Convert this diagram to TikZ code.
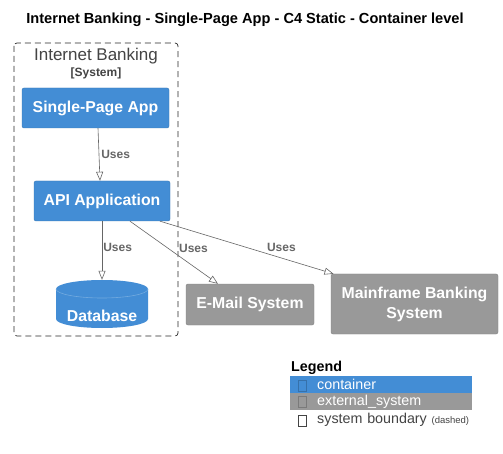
\documentclass[tikz,border=0pt]{standalone}
\usepackage{fontspec}
\setmainfont{Liberation Sans}
\usetikzlibrary{arrows.meta,positioning}
\definecolor{cblue}{HTML}{438DD5}
\definecolor{cgray}{HTML}{999999}
\definecolor{cline}{HTML}{666666}
\definecolor{ctext}{HTML}{444444}
\tikzset{
  container/.style={draw=cblue!85!black, line width=0.4pt, fill=cblue, rounded corners=2pt,
    text=white, font=\fontsize{15.8}{20}\selectfont\bfseries, align=center},
  extsys/.style={container, draw=cgray!85!black, fill=cgray},
  uses/.style={draw=cline, line width=0.6pt, -{Triangle[open,length=9pt,width=7pt]}},
  useslbl/.style={text=cline, font=\fontsize{12}{13}\selectfont\bfseries, inner sep=1pt},
  legrow/.style={anchor=west, minimum width=182pt, minimum height=17pt, inner sep=0pt,
    text width=182pt, align=left, font=\fontsize{14.3}{15}\selectfont},
  glyph/.style={draw, line width=0.5pt, minimum width=8pt, minimum height=11pt, inner sep=0pt}
}
\begin{document}
\begin{tikzpicture}[x=1pt, y=-1pt]
  \useasboundingbox[fill=white] (0,0) rectangle (503,454);
  % title
  \node[font=\fontsize{14.6}{16}\selectfont\bfseries] (title) at (245,20)
    {Internet Banking - Single-Page App - C4 Static - Container level};
  % system boundary
  \draw[dash pattern=on 6pt off 4pt, draw=ctext!60!black, line width=0.7pt, rounded corners=3pt]
    (14,43) rectangle (178,336);
  \node[text=ctext, font=\fontsize{17}{18}\selectfont] (bname) at (96,56) {Internet Banking};
  \node[text=ctext, font=\fontsize{12}{13}\selectfont\bfseries] (btype) at (96,73) {[System]};
  % containers
  \node[container, minimum width=147pt, minimum height=40pt] (spa) at (95.5,108) {Single-Page App};
  \node[container, minimum width=136pt, minimum height=40pt] (api) at (102,201) {API Application};
  % database drum
  \fill[cblue] (56,289) -- (56,319) arc[start angle=180, end angle=0, x radius=46, y radius=9]
    -- (148,289) arc[start angle=0, end angle=-180, x radius=46, y radius=9] -- cycle;
  \draw[cblue!75!white, line width=0.6pt] (56,289) arc[start angle=180, end angle=0, x radius=46, y radius=9];
  \node[minimum width=92pt, minimum height=48pt, inner sep=0pt] (db) at (102,304) {};
  \node[text=white, font=\fontsize{15.8}{18}\selectfont\bfseries] (dbname) at (102,315.5) {Database};
  % external systems
  \node[extsys, minimum width=128pt, minimum height=41pt] (mail) at (250,304.5) {E-Mail System};
  \node[extsys, minimum width=167pt, minimum height=60pt] (mainframe) at (414.5,304) {Mainframe Banking\\System};
  % relations
  \draw[uses] ([xshift=2.5pt]spa.south) -- node[useslbl, anchor=west, xshift=1pt] {Uses} ([xshift=-2pt]api.north);
  \draw[uses] (api.south) -- node[useslbl, anchor=west, pos=0.45, xshift=0pt] {Uses} (db.north);
  \draw[uses] ([xshift=28pt]api.south) -- node[useslbl, anchor=west, pos=0.43, xshift=10pt] {Uses} ([xshift=-32pt]mail.north);
  \draw[uses] ([xshift=58pt]api.south) -- node[useslbl, anchor=west, pos=0.5, xshift=19pt] {Uses} ([xshift=-81pt]mainframe.north);
  % legend
  \node[anchor=west, inner sep=0pt, font=\fontsize{14.3}{15}\selectfont\bfseries] (legend) at (291,368) {Legend};
  \node[legrow, fill=cblue, text=white] (lcont) at (290,384.5) {\hspace*{27pt}container};
  \node[legrow, fill=cgray, text=white] (lext) [below=0pt of lcont] {\hspace*{27pt}external\_system};
  \node[legrow, text=ctext] (lbound) [below=1pt of lext]
    {\hspace*{27pt}system boundary {\fontsize{9.5}{10}\selectfont (dashed)}};
  \node[glyph, draw=cblue!80!black] (gcont) at (302,385.5) {};
  \node[glyph, draw=cgray!80!black] (gext) at (302,402) {};
  \node[glyph, draw=ctext] (gbound) at (302,421) {};
\end{tikzpicture}
\end{document}
